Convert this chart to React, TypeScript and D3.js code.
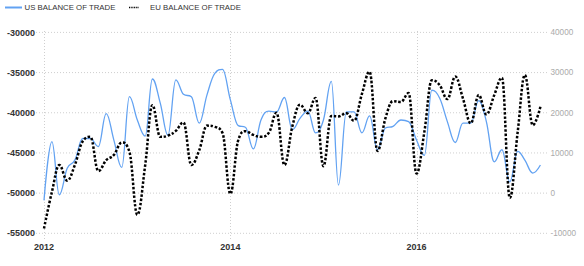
import React from "react";
import * as d3 from "d3";

const months = [
  "2012-01","2012-02","2012-03","2012-04","2012-05","2012-06","2012-07","2012-08","2012-09","2012-10","2012-11","2012-12",
  "2013-01","2013-02","2013-03","2013-04","2013-05","2013-06","2013-07","2013-08","2013-09","2013-10","2013-11","2013-12",
  "2014-01","2014-02","2014-03","2014-04","2014-05","2014-06","2014-07","2014-08","2014-09","2014-10","2014-11","2014-12",
  "2015-01","2015-02","2015-03","2015-04","2015-05","2015-06","2015-07","2015-08","2015-09","2015-10","2015-11","2015-12",
  "2016-01","2016-02","2016-03","2016-04","2016-05","2016-06","2016-07","2016-08","2016-09","2016-10","2016-11","2016-12",
  "2017-01","2017-02","2017-03","2017-04","2017-05",
];

const usBalance = [
  -50900, -43600, -50200, -46900, -45900, -43200, -43200, -44200, -40100, -43400, -46800, -38000,
  -40900, -42900, -35800, -38800, -42800, -35900, -37700, -38000, -41300, -37800, -35100, -34600,
  -38400, -41600, -41800, -44500, -40900, -39800, -39900, -38100, -42100, -40700, -39800, -42500,
  -40900, -36100, -49000, -39900, -39900, -42500, -40400, -44600, -41900, -41700, -40900, -41100,
  -43400, -45300, -37200, -38200, -41100, -43700, -41300, -41300, -38500, -41100, -46100, -44600,
  -48600, -44800, -45900, -47500, -46500,
];

const euBalance = [
  -8800, 300, 7000, 3100, 7000, 12900, 14000, 5500, 8200, 9500, 12600, 10300,
  -5400, 7000, 21900, 14000, 14300, 15500, 17600, 7000, 10700, 16800, 16500, 15000,
  -200, 13200, 15400, 14500, 14000, 15000, 20000, 7000, 16600, 22000, 19900, 23700,
  6700, 19200, 19100, 19900, 18000, 24700, 30200, 10500, 18600, 22900, 22700, 24900,
  4900, 15300, 28100, 26900, 23400, 29000, 23600, 17400, 24400, 19600, 24400, 28700,
  -1200, 15300, 29400, 16900, 21500,
];

const leftTicks = [-55000, -50000, -45000, -40000, -35000, -30000];
const rightTicks = [-10000, 0, 10000, 20000, 30000, 40000];
const yearTicks = ["2012", "2014", "2016"];
const seriesNames = ["US BALANCE OF TRADE", "EU BALANCE OF TRADE"];

// Highcharts-like spline curve (no false extremes)
class HCSpline {
  _ctx: any;
  _pts: number[][] = [];
  constructor(ctx: any) {
    this._ctx = ctx;
  }
  areaStart() {}
  areaEnd() {}
  lineStart() {
    this._pts = [];
  }
  point(x: number, y: number) {
    this._pts.push([+x, +y]);
  }
  lineEnd() {
    const p = this._pts;
    const ctx = this._ctx;
    if (!p.length) return;
    const s = 1.5;
    const d = s + 1;
    ctx.moveTo(p[0][0], p[0][1]);
    let prx = p[0][0];
    let pry = p[0][1];
    for (let i = 1; i < p.length; i++) {
      const x = p[i][0];
      const y = p[i][1];
      let lcx = x, lcy = y, rcx = x, rcy = y;
      if (i < p.length - 1) {
        const lx = p[i - 1][0], ly = p[i - 1][1];
        const nx = p[i + 1][0], ny = p[i + 1][1];
        lcx = (s * x + lx) / d;
        lcy = (s * y + ly) / d;
        rcx = (s * x + nx) / d;
        rcy = (s * y + ny) / d;
        let corr = 0;
        if (rcx !== lcx) corr = ((rcy - lcy) * (rcx - x)) / (rcx - lcx) + y - rcy;
        lcy += corr;
        rcy += corr;
        if (lcy > ly && lcy > y) {
          lcy = Math.max(ly, y);
          rcy = 2 * y - lcy;
        } else if (lcy < ly && lcy < y) {
          lcy = Math.min(ly, y);
          rcy = 2 * y - lcy;
        }
        if (rcy > ny && rcy > y) {
          rcy = Math.max(ny, y);
          lcy = 2 * y - rcy;
        } else if (rcy < ny && rcy < y) {
          rcy = Math.min(ny, y);
          lcy = 2 * y - rcy;
        }
      }
      ctx.bezierCurveTo(prx, pry, lcx, lcy, x, y);
      prx = rcx;
      pry = rcy;
    }
  }
}
const curveHC = (ctx: any) => new HCSpline(ctx);

const W = 584;
const H = 266;
const parse = (m: string) => {
  const [yy, mm] = m.split("-").map(Number);
  return new Date(Date.UTC(yy, mm - 1, 1));
};
const fmt = (t: number) => String(t);

export default function App() {
  const x = d3
    .scaleUtc()
    .domain([new Date(Date.UTC(2012, 0, 1)), new Date(Date.UTC(2016, 0, 1))])
    .range([44, 416.5]);
  const yL = d3.scaleLinear().domain([-55000, -30000]).range([233.3, 32.4]);
  const yR = d3.scaleLinear().domain([-10000, 40000]).range([233.3, 32.4]);

  const dates = months.map(parse);
  const usLine = d3
    .line<number>()
    .x((_, i) => x(dates[i]))
    .y((v) => yL(v))
    .curve(curveHC as any)(usBalance) as string;
  const euLine = d3
    .line<number>()
    .x((_, i) => x(dates[i]))
    .y((v) => yR(v))
    .curve(curveHC as any)(euBalance) as string;

  const font = "Arial, 'Liberation Sans', sans-serif";
  const gridColor = "#cfcfcf";

  return (
    <div style={{ position: "fixed", left: 0, top: 0, width: W, height: H, background: "#fff" }}>
      <svg width={W} height={H} style={{ display: "block" }}>
        <rect x={0} y={0} width={W} height={H} fill="#fff" />
        {/* horizontal grid */}
        {leftTicks.map((t) => (
          <line
            key={"h" + t}
            x1={36}
            x2={548}
            y1={yL(t)}
            y2={yL(t)}
            stroke={gridColor}
            strokeWidth={1}
            strokeDasharray="1,2"
          />
        ))}
        {/* vertical grid */}
        {yearTicks.map((t) => {
          const xx = Math.round(x(new Date(Date.UTC(+t, 0, 1)))) + 0.5;
          return (
            <line
              key={"v" + t}
              x1={xx}
              x2={xx}
              y1={31}
              y2={239}
              stroke={gridColor}
              strokeWidth={1}
              strokeDasharray="1,2"
            />
          );
        })}
        {/* left axis labels */}
        {leftTicks.map((t) => (
          <text
            key={"l" + t}
            x={35}
            y={yL(t)}
            dy="0.35em"
            textAnchor="end"
            fontFamily={font}
            fontSize={9}
            fontWeight="bold"
            fill="#333"
          >
            {fmt(t)}
          </text>
        ))}
        {/* right axis labels */}
        {rightTicks.map((t) => (
          <text
            key={"r" + t}
            x={550.5}
            y={yR(t)}
            dy="0.35em"
            textAnchor="start"
            fontFamily={font}
            fontSize={8.2}
            fill="#aaa"
          >
            {fmt(t)}
          </text>
        ))}
        {/* x labels */}
        {yearTicks.map((t) => (
          <text
            key={"x" + t}
            x={x(new Date(Date.UTC(+t, 0, 1)))}
            y={249.5}
            textAnchor="middle"
            fontFamily={font}
            fontSize={9}
            fontWeight="bold"
            fill="#333"
          >
            {t}
          </text>
        ))}
        {/* series */}
        <path d={usLine} fill="none" stroke="#62a2f2" strokeWidth={1.3} strokeLinejoin="round" />
        <path d={euLine} fill="none" stroke="#000" strokeWidth={2.5} strokeDasharray="2.5,1.8" />
        {/* legend */}
        <line x1={5} x2={22} y1={7.5} y2={7.5} stroke="#62a2f2" strokeWidth={2} />
        <text x={24.5} y={10.3} fontFamily={font} fontSize={7.8} fill="#333">
          {seriesNames[0]}
        </text>
        <line x1={129} x2={138.5} y1={7.5} y2={7.5} stroke="#000" strokeWidth={1.3} strokeDasharray="1,0.7" />
        <text x={150} y={10.3} fontFamily={font} fontSize={7.8} fill="#333">
          {seriesNames[1]}
        </text>
      </svg>
    </div>
  );
}
